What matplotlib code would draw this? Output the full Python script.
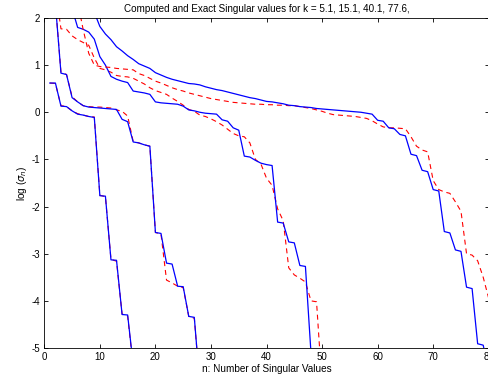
import matplotlib
matplotlib.use("Agg")
import matplotlib.pyplot as plt

plt.rcParams['font.family'] = ['Liberation Sans', 'DejaVu Sans']
plt.rcParams['axes.unicode_minus'] = False

# log10 singular values, index n = 1, 2, ...
# k = 5.1
comp_k1 = [0.62, 0.62, 0.13, 0.12, 0.03, -0.04, -0.06, -0.09, -0.11, -1.77,
           -1.78, -3.13, -3.14, -4.29, -4.30, -5.35, -6.2]
exact_k1 = [0.62, 0.61, 0.14, 0.12, 0.03, -0.03, -0.06, -0.09, -0.10, -1.76,
            -1.79, -3.12, -3.16, -4.28, -4.32, -5.40, -6.2]

# k = 15.1
comp_k2 = [2.40, 2.30, 0.83, 0.80, 0.31, 0.22, 0.14, 0.11, 0.10, 0.09,
           0.08, 0.07, 0.06, -0.15, -0.20, -0.63, -0.65, -0.69, -0.72, -2.55,
           -2.57, -3.20, -3.22, -3.69, -3.70, -4.33, -4.35, -5.80]
exact_k2 = [2.40, 2.30, 0.85, 0.80, 0.33, 0.22, 0.14, 0.12, 0.11, 0.11,
            0.10, 0.09, 0.05, 0.02, -0.08, -0.62, -0.65, -0.69, -0.72, -2.55,
            -2.58, -3.56, -3.62, -3.69, -3.72, -4.33, -4.37, -5.80]

# k = 40.1
comp_k3 = [3.50, 3.30, 3.00, 2.60, 2.20, 1.80, 1.76, 1.70, 1.55, 1.18,
           1.00, 0.76, 0.70, 0.66, 0.63, 0.45, 0.43, 0.41, 0.38, 0.22,
           0.20, 0.19, 0.18, 0.17, 0.13, 0.05, 0.03, 0.00, -0.02, -0.03,
           -0.04, -0.16, -0.19, -0.33, -0.38, -0.93, -0.95, -1.02, -1.08, -1.11,
           -1.13, -2.33, -2.35, -2.75, -2.77, -3.25, -3.27, -5.10, -6.00]
exact_k3 = [3.20, 2.60, 1.77, 1.76, 1.62, 1.54, 1.48, 1.42, 1.15, 0.93,
            0.90, 0.85, 0.78, 0.76, 0.75, 0.72, 0.66, 0.60, 0.52, 0.46,
            0.42, 0.38, 0.30, 0.23, 0.15, 0.06, 0.02, -0.06, -0.09, -0.14,
            -0.20, -0.27, -0.36, -0.45, -0.50, -0.52, -0.65, -1.00, -1.10, -1.40,
            -1.55, -2.05, -2.30, -3.30, -3.45, -3.52, -3.60, -4.00, -4.02, -5.80]

# k = 77.6
comp_k4 = [3.90, 3.70, 3.40, 3.10, 2.90, 2.70, 2.50, 2.30, 2.12, 1.82,
           1.66, 1.54, 1.39, 1.30, 1.20, 1.12, 1.03, 0.98, 0.93, 0.84,
           0.79, 0.74, 0.70, 0.67, 0.64, 0.61, 0.60, 0.58, 0.54, 0.51,
           0.48, 0.46, 0.43, 0.40, 0.37, 0.34, 0.31, 0.29, 0.26, 0.23,
           0.22, 0.20, 0.18, 0.15, 0.14, 0.12, 0.11, 0.10, 0.08, 0.07,
           0.06, 0.05, 0.04, 0.03, 0.02, 0.01, 0.00, -0.02, -0.04, -0.17,
           -0.19, -0.33, -0.35, -0.47, -0.50, -0.89, -0.92, -1.23, -1.26, -1.64,
           -1.67, -2.53, -2.56, -2.92, -2.95, -3.71, -3.74, -4.91, -4.94, -5.50]
exact_k4 = [3.80, 3.50, 3.20, 2.90, 2.60, 2.35, 1.75, 1.25, 1.00, 0.97,
            0.96, 0.95, 0.93, 0.92, 0.91, 0.90, 0.82, 0.78, 0.72, 0.66,
            0.62, 0.57, 0.52, 0.48, 0.45, 0.41, 0.38, 0.35, 0.32, 0.29,
            0.27, 0.25, 0.23, 0.21, 0.20, 0.19, 0.18, 0.17, 0.17, 0.16,
            0.16, 0.15, 0.15, 0.14, 0.14, 0.12, 0.10, 0.08, 0.05, 0.02,
            -0.02, -0.05, -0.06, -0.07, -0.08, -0.09, -0.11, -0.13, -0.18, -0.25,
            -0.31, -0.33, -0.33, -0.34, -0.35, -0.52, -0.72, -0.80, -0.84, -1.45,
            -1.64, -1.69, -1.72, -1.90, -2.10, -3.00, -3.03, -3.15, -3.50, -3.95]

k_values = [5.1, 15.1, 40.1, 77.6]
computed = [comp_k1, comp_k2, comp_k3, comp_k4]
exact = [exact_k1, exact_k2, exact_k3, exact_k4]

fig = plt.figure(figsize=(4.89, 3.76), dpi=100)
ax = fig.add_axes([0.0906, 0.0745, 0.9089, 0.8777])

for comp, ex in zip(computed, exact):
    n_ex = range(1, len(ex) + 1)
    n_comp = range(1, len(comp) + 1)
    ax.plot(n_ex, ex, color='red', lw=0.8, dashes=(4.5, 3.5))
    ax.plot(n_comp, comp, color='blue', lw=0.9)

ax.set_xlim(0, 80)
ax.set_ylim(-5, 2)
ax.set_xticks(range(0, 81, 10))
ax.set_yticks(range(-5, 3))
ax.tick_params(direction='in', length=3, width=0.6, top=True, right=True,
               labelsize=7, pad=3)
for s in ax.spines.values():
    s.set_linewidth(0.6)

ax.set_title("Computed and Exact Singular values for k = "
             + "".join(f"{k}, " for k in k_values).rstrip(" "),
             fontsize=7.1, pad=4)
ax.set_xlabel("n: Number of Singular Values", fontsize=7.2, labelpad=1)
ax.set_ylabel(r"log ($\sigma_n$)", fontsize=7.2, labelpad=2)

fig.savefig("out.png", dpi=100)
